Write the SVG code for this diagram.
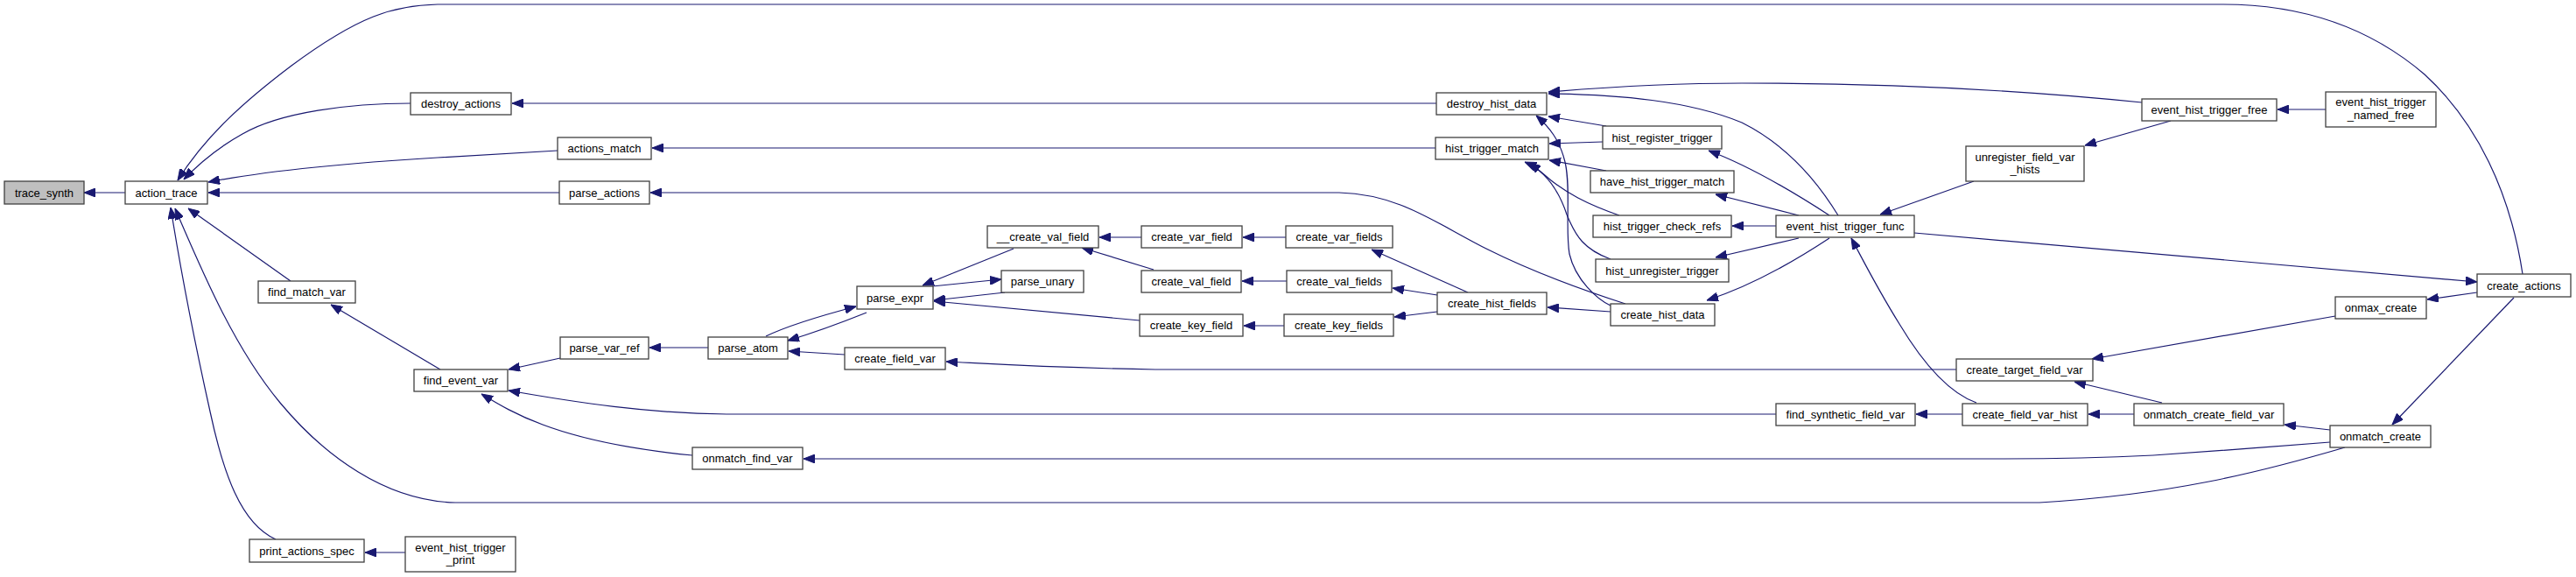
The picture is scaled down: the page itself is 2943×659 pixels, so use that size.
<svg xmlns="http://www.w3.org/2000/svg" width="2943" height="659" viewBox="0 0 2943 659">
<style>
.n rect{fill:#fff;stroke:#404040;stroke-width:1.3}
.n text{font-family:"Liberation Sans",Arial,sans-serif;font-size:13px;fill:#000;text-anchor:middle}
#edges path{fill:none;stroke:#191970;stroke-width:1.2;marker-end:url(#ah)}
</style>
<defs>
<marker id="ah" viewBox="0 0 13 10" refX="13" refY="5" markerWidth="13" markerHeight="10" markerUnits="userSpaceOnUse" orient="auto">
<path d="M0,0 L13,5 L0,10 z" fill="#191970" stroke="#191970" stroke-width="1"/>
</marker>
</defs>
<rect width="2943" height="659" fill="#fff"/>
<g id="edges">
<path d="M143,220 L96,220"/>
<path d="M469,118 C400,118 320,128 277,153 C250,168 228,186 210,205"/>
<path d="M2882,313 C2868,220 2830,140 2770,85 C2700,25 2620,5 2540,5 L500,5 C450,6 410,18 333,75 C280,115 235,155 203,206"/>
<path d="M637,172 L500,180 C400,186 300,196 238,208"/>
<path d="M639,220 L238,220"/>
<path d="M332,321 L215,238"/>
<path d="M315,616 C275,598 255,540 240,470 C220,380 205,300 195,237"/>
<path d="M2679,511 C2580,540 2480,565 2330,574 L520,574 C440,572 370,520 320,460 C270,400 235,320 200,238"/>
<path d="M503,422 L378,348"/>
<path d="M640,409 L581,422"/>
<path d="M2029,473 L830,473 C740,472 660,460 581,446"/>
<path d="M791,520 C720,513 660,500 620,485 C590,474 570,462 550,450"/>
<path d="M809,397 L742,397"/>
<path d="M875,384 C900,372 940,360 978,350"/>
<path d="M990,357 C960,369 930,380 900,389"/>
<path d="M965,405 L901,401"/>
<path d="M1158,284 L1054,326"/>
<path d="M1065,327 L1144,319"/>
<path d="M1148,334 L1067,343"/>
<path d="M1302,366 L1067,344"/>
<path d="M1304,271 L1256,271"/>
<path d="M1318,308 L1236,283"/>
<path d="M1469,271 L1420,271"/>
<path d="M1470,321 L1419,321"/>
<path d="M1467,372 L1421,372"/>
<path d="M1677,334 L1567,285"/>
<path d="M1642,337 L1591,329"/>
<path d="M1642,356 L1593,362"/>
<path d="M1840,356 L1768,351"/>
<path d="M1857,347 C1820,335 1760,315 1700,285 C1640,255 1600,222 1530,220 L743,220"/>
<path d="M1840,349 C1825,342 1800,320 1793,290 C1788,260 1795,215 1788,185 C1782,160 1770,145 1755,132"/>
<path d="M1641,118 L585,118"/>
<path d="M1640,169 L745,169"/>
<path d="M1835,144 L1769,133"/>
<path d="M1831,162 L1770,164"/>
<path d="M1835,195 L1770,183"/>
<path d="M1850,246 C1810,232 1790,220 1772,206 C1762,197 1754,191 1747,186"/>
<path d="M1840,296 C1810,285 1800,270 1790,245 C1780,215 1765,195 1742,185"/>
<path d="M2100,246 C2075,205 2040,165 1990,140 C1930,115 1850,108 1769,107"/>
<path d="M2447,117 C2300,102 2150,95 1990,95 C1900,95 1830,100 1769,105"/>
<path d="M2090,246 C2050,220 2000,190 1952,172"/>
<path d="M2055,246 L1960,222"/>
<path d="M2029,258 L1979,258"/>
<path d="M2055,272 L1960,294"/>
<path d="M2090,272 C2040,305 1990,330 1950,343"/>
<path d="M2258,460 C2230,450 2200,420 2170,370 C2145,330 2130,300 2115,272"/>
<path d="M2255,207 L2148,245"/>
<path d="M2480,138 L2382,166"/>
<path d="M2657,125 L2602,125"/>
<path d="M2187,266 L2830,322"/>
<path d="M2830,334 L2773,342"/>
<path d="M2872,340 L2733,485"/>
<path d="M2668,361 L2390,410"/>
<path d="M2470,460 L2370,436"/>
<path d="M2235,422 L1320,422 C1200,420 1140,416 1081,413"/>
<path d="M2438,473 L2386,473"/>
<path d="M2242,473 L2189,473"/>
<path d="M2662,491 L2610,485"/>
<path d="M2662,505 C2600,510 2520,516 2460,520 C2400,523 2340,524 2290,524 L918,524"/>
<path d="M463,631 L417,631"/>
</g>
<g id="trace_synth" class="n"><rect x="5" y="207" width="91" height="26" style="fill:#bfbfbf"/><text x="50.5" y="224.5">trace_synth</text></g>
<g id="action_trace" class="n"><rect x="143" y="207" width="94" height="26"/><text x="190" y="224.5">action_trace</text></g>
<g id="destroy_actions" class="n"><rect x="469" y="106" width="115" height="25"/><text x="526.5" y="123">destroy_actions</text></g>
<g id="actions_match" class="n"><rect x="637" y="157" width="107" height="25"/><text x="690.5" y="174">actions_match</text></g>
<g id="parse_actions" class="n"><rect x="639" y="207" width="103" height="26"/><text x="690.5" y="224.5">parse_actions</text></g>
<g id="find_match_var" class="n"><rect x="295" y="321" width="111" height="25"/><text x="350.5" y="338">find_match_var</text></g>
<g id="find_event_var" class="n"><rect x="473" y="422" width="107" height="25"/><text x="526.5" y="439">find_event_var</text></g>
<g id="print_actions_spec" class="n"><rect x="285" y="616" width="131" height="26"/><text x="350.5" y="633.5">print_actions_spec</text></g>
<g id="event_hist_trigger_print" class="n"><rect x="463" y="613" width="126" height="40"/><text x="526" y="629.5">event_hist_trigger</text><text x="526" y="643.5">_print</text></g>
<g id="parse_var_ref" class="n"><rect x="640" y="385" width="101" height="25"/><text x="690.5" y="402">parse_var_ref</text></g>
<g id="parse_atom" class="n"><rect x="809" y="385" width="91" height="25"/><text x="854.5" y="402">parse_atom</text></g>
<g id="onmatch_find_var" class="n"><rect x="791" y="511" width="126" height="25"/><text x="854" y="528">onmatch_find_var</text></g>
<g id="parse_expr" class="n"><rect x="979" y="327" width="87" height="26"/><text x="1022.5" y="344.5">parse_expr</text></g>
<g id="__create_val_field" class="n"><rect x="1128" y="258" width="127" height="25"/><text x="1191.5" y="275">__create_val_field</text></g>
<g id="parse_unary" class="n"><rect x="1144" y="309" width="94" height="25"/><text x="1191" y="326">parse_unary</text></g>
<g id="create_var_field" class="n"><rect x="1304" y="258" width="115" height="25"/><text x="1361.5" y="275">create_var_field</text></g>
<g id="create_val_field" class="n"><rect x="1304" y="309" width="114" height="25"/><text x="1361" y="326">create_val_field</text></g>
<g id="create_key_field" class="n"><rect x="1302" y="359" width="118" height="25"/><text x="1361" y="376">create_key_field</text></g>
<g id="create_field_var" class="n"><rect x="965" y="397" width="115" height="25"/><text x="1022.5" y="414">create_field_var</text></g>
<g id="create_var_fields" class="n"><rect x="1469" y="258" width="122" height="25"/><text x="1530" y="275">create_var_fields</text></g>
<g id="create_val_fields" class="n"><rect x="1470" y="309" width="120" height="25"/><text x="1530" y="326">create_val_fields</text></g>
<g id="create_key_fields" class="n"><rect x="1467" y="359" width="125" height="25"/><text x="1529.5" y="376">create_key_fields</text></g>
<g id="create_hist_fields" class="n"><rect x="1642" y="334" width="125" height="25"/><text x="1704.5" y="351">create_hist_fields</text></g>
<g id="create_hist_data" class="n"><rect x="1840" y="347" width="119" height="25"/><text x="1899.5" y="364">create_hist_data</text></g>
<g id="destroy_hist_data" class="n"><rect x="1641" y="106" width="126" height="25"/><text x="1704" y="123">destroy_hist_data</text></g>
<g id="hist_trigger_match" class="n"><rect x="1640" y="157" width="129" height="25"/><text x="1704.5" y="174">hist_trigger_match</text></g>
<g id="hist_register_trigger" class="n"><rect x="1831" y="144" width="136" height="26"/><text x="1899" y="161.5">hist_register_trigger</text></g>
<g id="have_hist_trigger_match" class="n"><rect x="1817" y="195" width="164" height="25"/><text x="1899" y="212">have_hist_trigger_match</text></g>
<g id="hist_trigger_check_refs" class="n"><rect x="1820" y="246" width="158" height="25"/><text x="1899" y="263">hist_trigger_check_refs</text></g>
<g id="hist_unregister_trigger" class="n"><rect x="1823" y="296" width="152" height="26"/><text x="1899" y="313.5">hist_unregister_trigger</text></g>
<g id="event_hist_trigger_func" class="n"><rect x="2029" y="246" width="158" height="25"/><text x="2108" y="263">event_hist_trigger_func</text></g>
<g id="unregister_field_var_hists" class="n"><rect x="2246" y="167" width="135" height="40"/><text x="2313.5" y="183.5">unregister_field_var</text><text x="2313.5" y="197.5">_hists</text></g>
<g id="event_hist_trigger_free" class="n"><rect x="2447" y="113" width="154" height="25"/><text x="2524" y="130">event_hist_trigger_free</text></g>
<g id="event_hist_trigger_named_free" class="n"><rect x="2657" y="105" width="126" height="40"/><text x="2720" y="121">event_hist_trigger</text><text x="2720" y="135.5">_named_free</text></g>
<g id="create_actions" class="n"><rect x="2830" y="313" width="107" height="26"/><text x="2883.5" y="330.5">create_actions</text></g>
<g id="onmax_create" class="n"><rect x="2668" y="339" width="104" height="25"/><text x="2720" y="356">onmax_create</text></g>
<g id="onmatch_create_field_var" class="n"><rect x="2438" y="461" width="171" height="25"/><text x="2523.5" y="478">onmatch_create_field_var</text></g>
<g id="onmatch_create" class="n"><rect x="2662" y="486" width="115" height="25"/><text x="2719.5" y="503">onmatch_create</text></g>
<g id="create_target_field_var" class="n"><rect x="2235" y="410" width="156" height="25"/><text x="2313" y="427">create_target_field_var</text></g>
<g id="find_synthetic_field_var" class="n"><rect x="2029" y="461" width="159" height="25"/><text x="2108.5" y="478">find_synthetic_field_var</text></g>
<g id="create_field_var_hist" class="n"><rect x="2242" y="461" width="143" height="25"/><text x="2313.5" y="478">create_field_var_hist</text></g>
</svg>
